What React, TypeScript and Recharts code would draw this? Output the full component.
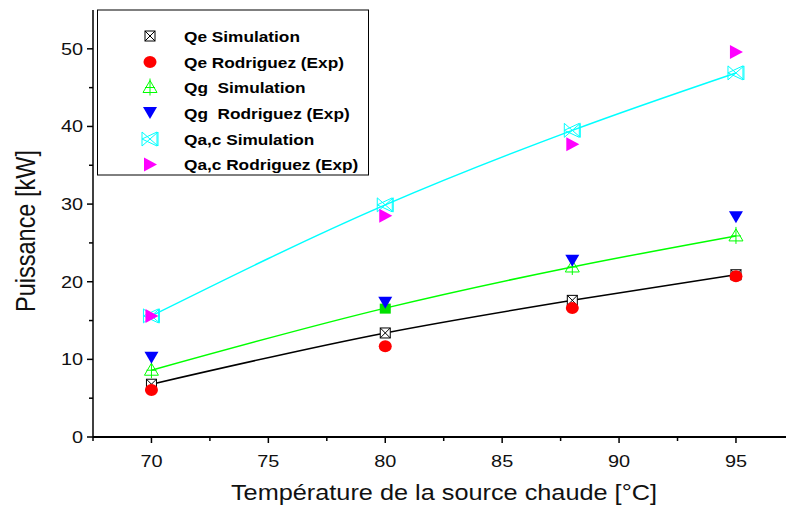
import { Line, LineChart, XAxis, YAxis } from "recharts";

const temps = [70, 80, 88, 95];
const qeSim = [6.8, 13.4, 17.6, 20.9];
const qeExp = [6.05, 11.7, 16.6, 20.7];
const qgSim = [8.6, 16.6, 21.9, 25.9];
const qgExp = [10.2, 17.3, 22.7, 28.3];
const qacSim = [15.6, 29.9, 39.5, 46.9];
const qacExp = [15.6, 28.5, 37.7, 49.6];

const xMajorTicks = [70, 75, 80, 85, 90, 95];
const xMinorTicks = [67.5, 72.5, 77.5, 82.5, 87.5, 92.5];
const yMajorTicks = [0, 10, 20, 30, 40, 50];
const yMinorTicks = [5, 15, 25, 35, 45];
const topTicks = [1, 2, 3, 4, 5, 6, 7, 8, 9];
const rightTicks = [1, 2, 3, 4];

const legendLabels = [
  "Qe Simulation",
  "Qe Rodriguez (Exp)",
  "Qg  Simulation",
  "Qg  Rodriguez (Exp)",
  "Qa,c Simulation",
  "Qa,c Rodriguez (Exp)",
];
const legendKinds = ["qeSim", "qeExp", "qgSim", "qgExp", "qacSim", "qacExp"];

const data = temps.map((t, i) => ({
  t,
  qeSim: qeSim[i],
  qeExp: qeExp[i],
  qgSim: qgSim[i],
  qgExp: qgExp[i],
  qacSim: qacSim[i],
  qacExp: qacExp[i],
}));

const FONT = "'Liberation Sans', Arial, Helvetica, sans-serif";
const SX = 1.17;

// marqueurs façon Origin
const Marker = ({ kind, cx, cy, index = 0 }: { kind: string; cx: number; cy: number; index?: number }) => {
  switch (kind) {
    case "qeSim":
      return (
        <g stroke="#000" strokeWidth={1} fill="none">
          <rect x={cx - 5} y={cy - 5} width={10} height={10} fill="#fff" />
          <line x1={cx - 5} y1={cy - 5} x2={cx + 5} y2={cy + 5} />
          <line x1={cx - 5} y1={cy + 5} x2={cx + 5} y2={cy - 5} />
        </g>
      );
    case "qeExp":
      return <ellipse cx={cx} cy={cy} rx={6.5} ry={6} fill="#ff0000" />;
    case "qgSim":
      if (index === 1) {
        return <rect x={cx - 5.5} y={cy - 4.5} width={11} height={10} fill="#00e000" />;
      }
      return (
        <g stroke="#00ff00" strokeWidth={1} fill="none">
          <polygon points={`${cx},${cy - 7} ${cx + 7},${cy + 5} ${cx - 7},${cy + 5}`} />
          <line x1={cx} y1={cy - 9} x2={cx} y2={cy + 8} />
          <line x1={cx - 5} y1={cy} x2={cx + 5} y2={cy} />
        </g>
      );
    case "qgExp":
      return (
        <polygon
          points={`${cx - 7},${cy - 6} ${cx + 7},${cy - 6} ${cx},${cy + 6}`}
          fill="#0000ff"
        />
      );
    case "qacSim":
      return (
        <g stroke="#00ffff" strokeWidth={1} fill="none">
          <polygon points={`${cx - 8},${cy - 7} ${cx + 8},${cy + 7} ${cx + 8},${cy - 7} ${cx - 8},${cy + 7}`} />
          <polygon points={`${cx - 8},${cy} ${cx + 7},${cy - 7} ${cx + 7},${cy + 7}`} />
        </g>
      );
    default:
      return (
        <polygon
          points={`${cx - 6},${cy - 7} ${cx + 7},${cy} ${cx - 6},${cy + 7}`}
          fill="#ff00ff"
        />
      );
  }
};

const BottomTick = (props: any) => {
  const { x, y, payload } = props;
  const major = xMajorTicks.includes(payload.value);
  return (
    <g>
      <line x1={x} y1={y} x2={x} y2={y + (major ? 6 : 4)} stroke="#000" strokeWidth={1.5} />
      {major && (
        <text
          transform={`translate(${x},${y + 30}) scale(${SX},1)`}
          textAnchor="middle"
          fontSize={17}
          fontFamily={FONT}
          fill="#111"
        >
          {payload.value}
        </text>
      )}
    </g>
  );
};

const LeftTick = (props: any) => {
  const { x, y, payload } = props;
  const major = yMajorTicks.includes(payload.value);
  return (
    <g>
      <line x1={x - (major ? 6 : 4)} y1={y} x2={x} y2={y} stroke="#000" strokeWidth={1.5} />
      {major && (
        <text
          transform={`translate(${x - 10},${y + 6}) scale(${SX},1)`}
          textAnchor="end"
          fontSize={17}
          fontFamily={FONT}
          fill="#111"
        >
          {payload.value}
        </text>
      )}
    </g>
  );
};

const TopTick = (props: any) => {
  const { x, y, payload } = props;
  const major = payload.value % 2 === 0;
  return <line x1={x} y1={y} x2={x} y2={y + (major ? 6 : 3)} stroke="#000" strokeWidth={1.5} />;
};

const RightTick = (props: any) => {
  const { x, y } = props;
  return <line x1={x - 4} y1={y} x2={x} y2={y} stroke="#000" strokeWidth={1.5} />;
};

const dotOf = (kind: string) => (p: any) => (
  <Marker key={`${kind}-${p.index}`} kind={kind} cx={p.cx} cy={p.cy} index={p.index} />
);

export default function App() {
  const rowY = [36, 62, 87.5, 113, 139, 164.5];
  return (
    <div style={{ position: "absolute", left: 0, top: 0, width: 786, height: 506, background: "#fff" }}>
      <LineChart width={786} height={506} data={data} margin={{ top: 10, right: 0, bottom: 0, left: 0 }}>
        <XAxis
          dataKey="t"
          type="number"
          domain={[67.5, 97.14]}
          allowDataOverflow
          ticks={[...xMinorTicks, ...xMajorTicks].sort((a, b) => a - b)}
          interval={0}
          height={69}
          tickSize={0}
          tickMargin={0}
          tickLine={false}
          tick={<BottomTick />}
          axisLine={{ stroke: "#000", strokeWidth: 2 }}
        />
        <XAxis
          xAxisId="top"
          orientation="top"
          type="number"
          domain={[0, 9.9]}
          allowDataOverflow
          ticks={topTicks}
          interval={0}
          height={0}
          tickSize={0}
          tickMargin={0}
          tickLine={false}
          tick={<TopTick />}
          axisLine={{ stroke: "#000", strokeWidth: 2 }}
        />
        <YAxis
          type="number"
          domain={[0, 55]}
          allowDataOverflow
          ticks={[...yMajorTicks, ...yMinorTicks].sort((a, b) => a - b)}
          interval={0}
          width={93}
          tickSize={0}
          tickMargin={0}
          tickLine={false}
          tick={<LeftTick />}
          axisLine={{ stroke: "#000", strokeWidth: 1.5 }}
        />
        <YAxis
          yAxisId="right"
          orientation="right"
          type="number"
          domain={[0, 4.965]}
          allowDataOverflow
          ticks={rightTicks}
          interval={0}
          width={0}
          tickSize={0}
          tickMargin={0}
          tickLine={false}
          tick={<RightTick />}
          axisLine={false}
        />
        <Line type="monotone" dataKey="qeSim" stroke="#000" strokeWidth={1.5} dot={dotOf("qeSim")} activeDot={false} isAnimationActive={false} />
        <Line dataKey="qeExp" stroke="none" dot={dotOf("qeExp")} activeDot={false} isAnimationActive={false} />
        <Line type="monotone" dataKey="qgSim" stroke="#00ff00" strokeWidth={1.5} dot={dotOf("qgSim")} activeDot={false} isAnimationActive={false} />
        <Line dataKey="qgExp" stroke="none" dot={dotOf("qgExp")} activeDot={false} isAnimationActive={false} />
        <Line type="monotone" dataKey="qacSim" stroke="#00ffff" strokeWidth={1.5} dot={dotOf("qacSim")} activeDot={false} isAnimationActive={false} />
        <Line dataKey="qacExp" stroke="none" dot={dotOf("qacExp")} activeDot={false} isAnimationActive={false} />
      </LineChart>

      <svg
        width={786}
        height={506}
        style={{ position: "absolute", left: 0, top: 0, pointerEvents: "none" }}
      >
        {/* légende */}
        <rect x={97.5} y={10} width={271} height={165} fill="none" stroke="#000" strokeWidth={1} />
        {legendLabels.map((label, i) => (
          <g key={label}>
            <Marker kind={legendKinds[i]} cx={150} cy={rowY[i]} />
            <text
              transform={`translate(184,${rowY[i] + 5.5}) scale(1.15,1)`}
              fontSize={15}
              fontWeight="bold"
              fontFamily={FONT}
              fill="#000"
              style={{ whiteSpace: "pre" }}
            >
              {label}
            </text>
          </g>
        ))}

        {/* titres des axes */}
        <text
          transform="translate(444,500) scale(1.15,1)"
          textAnchor="middle"
          fontSize={22}
          fontFamily={FONT}
          fill="#111"
        >
          Température de la source chaude [°C]
        </text>
        <text
          transform="translate(35,231) scale(1.15,1) rotate(-90)"
          textAnchor="middle"
          fontSize={23.5}
          fontFamily={FONT}
          fill="#111"
        >
          Puissance [kW]
        </text>
      </svg>
    </div>
  );
}
